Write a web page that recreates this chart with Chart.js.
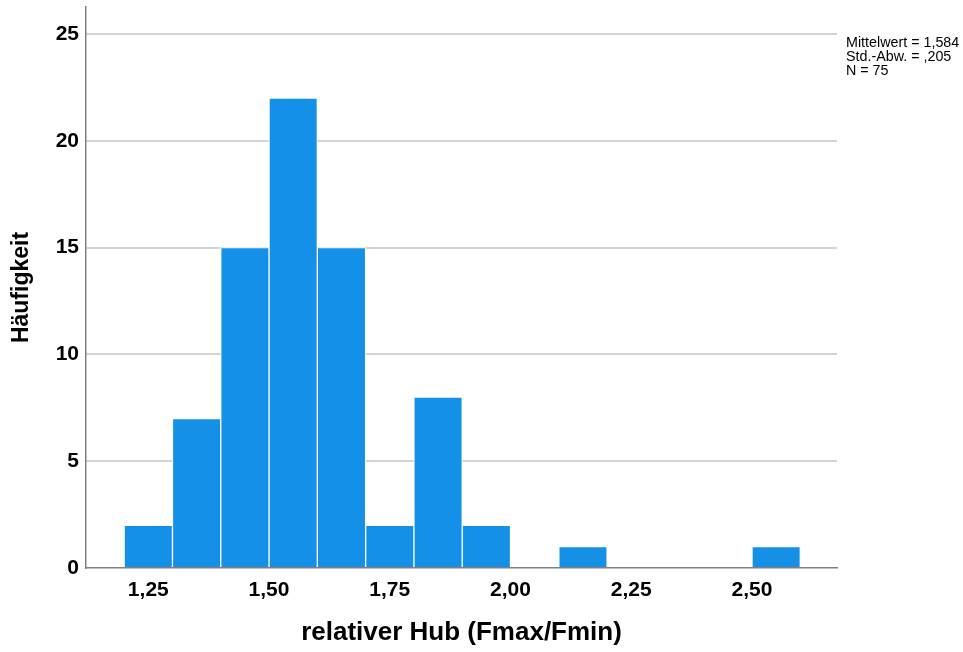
<!DOCTYPE html>
<html lang="de">
<head>
<meta charset="utf-8">
<title>relativer Hub (Fmax/Fmin)</title>
<script src="https://cdn.jsdelivr.net/npm/chart.js@4"></script>
<style>
  html, body { margin: 0; padding: 0; background: #fff; }
  canvas { display: block; }
</style>
</head>
<body>
<canvas id="hist" width="963" height="652"></canvas>
<script>
// Histogram bins (centre of each 0,1 wide class) and their frequencies
const binCenters = [1.25, 1.35, 1.45, 1.55, 1.65, 1.75, 1.85, 1.95, 2.05, 2.15, 2.25, 2.35, 2.45, 2.55]
const counts = [2, 7, 15, 22, 15, 2, 8, 2, 0, 1, 0, 0, 0, 1]

const xTickValues = [1.25, 1.5, 1.75, 2.0, 2.25, 2.5]
const yTickValues = [0, 5, 10, 15, 20, 25]

const statLines = ["Mittelwert = 1,584", "Std.-Abw. = ,205", "N = 75"]

const FONT = "'Liberation Sans', Arial, Helvetica, sans-serif"

const statsBox = {
  id: "statsBox",
  afterDraw(chart) {
    const ctx = chart.ctx
    ctx.save()
    ctx.fillStyle = "#000"
    ctx.font = "14.3px " + FONT
    ctx.textAlign = "left"
    ctx.textBaseline = "alphabetic"
    statLines.forEach((line, i) => {
      ctx.fillText(line, chart.chartArea.right + 9, 47 + i * 14.2)
    })
    ctx.restore()
  },
}

const ctx = document.getElementById("hist").getContext("2d")
new Chart(ctx, {
  type: "bar",
  data: {
    datasets: [
      {
        data: binCenters.map((x, i) => ({ x: x, y: counts[i] })),
        backgroundColor: "#1490e6",
        borderColor: "#ffffff",
        borderWidth: 1,
        borderSkipped: "start",
        barPercentage: 1,
        categoryPercentage: 1,
      },
    ],
  },
  options: {
    responsive: false,
    animation: false,
    layout: { padding: { top: 7, right: 126, bottom: 0, left: 0 } },
    plugins: {
      legend: { display: false },
      tooltip: { enabled: false },
    },
    scales: {
      x: {
        type: "linear",
        offset: false,
        min: 1.121,
        max: 2.676,
        afterBuildTicks: (scale) => {
          scale.ticks = xTickValues.map((v) => ({ value: v }))
        },
        afterFit: (scale) => {
          scale.height = 84
          scale.paddingLeft = 0
          scale.paddingRight = 0
        },
        grid: { display: false, drawTicks: false },
        border: { display: true, color: "#808080", width: 1.5 },
        ticks: {
          padding: 10,
          color: "#000",
          maxRotation: 0,
          font: { family: FONT, size: 21, weight: "bold" },
          callback: (v) => v.toFixed(2).replace(".", ","),
        },
        title: {
          display: true,
          text: "relativer Hub (Fmax/Fmin)",
          color: "#000",
          padding: { top: 0, bottom: 6 },
          font: { family: FONT, size: 26, weight: "bold", lineHeight: 1 },
        },
      },
      y: {
        min: 0,
        max: 26.26,
        afterBuildTicks: (scale) => {
          scale.ticks = yTickValues.map((v) => ({ value: v }))
        },
        afterFit: (scale) => {
          scale.width = 86
          scale.paddingTop = 0
          scale.paddingBottom = 0
        },
        grid: {
          drawTicks: false,
          lineWidth: 2,
          color: (c) => (c.tick && c.tick.value === 0 ? "rgba(0,0,0,0)" : "#d4d4d4"),
        },
        border: { display: true, color: "#808080", width: 1.5 },
        ticks: {
          padding: 7,
          color: "#000",
          font: { family: FONT, size: 21, weight: "bold" },
        },
        title: {
          display: true,
          text: "Häufigkeit",
          color: "#000",
          padding: { top: 10.5, bottom: 0 },
          font: { family: FONT, size: 23, weight: "bold", lineHeight: 1 },
        },
      },
    },
  },
  plugins: [statsBox],
})
</script>
</body>
</html>
